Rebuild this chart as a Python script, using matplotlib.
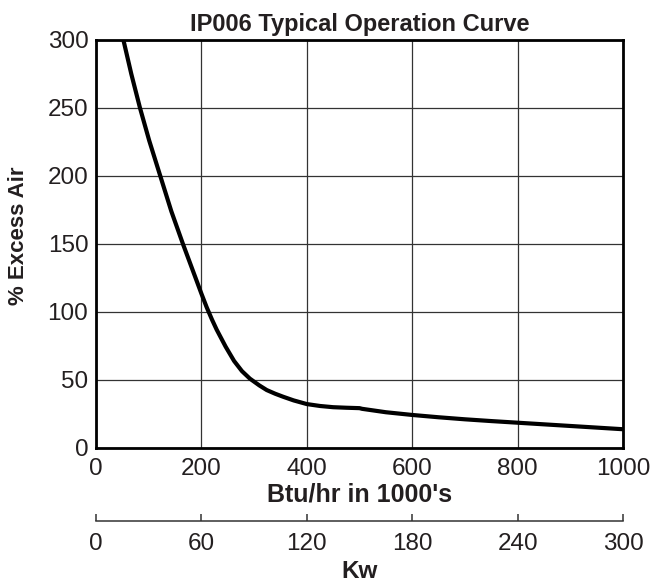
import matplotlib
matplotlib.use("Agg")
import matplotlib.pyplot as plt

plt.rcParams['font.family'] = ['Liberation Sans', 'DejaVu Sans']

# curve (Btu/hr in 1000's, % excess air)
btu = [52, 67, 83.5, 101, 122, 143, 165, 189, 200, 210, 220, 229, 246, 262,
       277, 292, 310, 324, 340, 355, 375, 400, 425, 450, 475, 500, 505, 550,
       600, 650, 700, 750, 800, 850, 900, 950, 1000]
excess_air = [300, 275, 250, 226, 200, 174, 150, 125, 113.5, 103.5, 94.5, 87,
              74.5, 64, 56.5, 51, 46, 42.6, 39.9, 37.7, 35, 32.3, 30.9, 30,
              29.6, 29.3, 28.8, 26.3, 24.3, 22.6, 21.1, 19.8, 18.6, 17.4, 16.2,
              15, 13.8]

x_ticks = [0, 200, 400, 600, 800, 1000]
y_ticks = [0, 50, 100, 150, 200, 250, 300]
kw_ticks = [0, 60, 120, 180, 240, 300]

ink = '#231f20'

fig = plt.figure(figsize=(6.55, 5.83), dpi=100)
ax = fig.add_axes([96 / 655, 1 - 448 / 583, 527 / 655, 408 / 583])

ax.plot(btu, excess_air, color='black', linewidth=3.0, solid_capstyle='butt',
        solid_joinstyle='round', zorder=3)

ax.set_xlim(0, 1000)
ax.set_ylim(0, 300)
ax.set_xticks(x_ticks)
ax.set_yticks(y_ticks)
ax.grid(True, color='#333333', linewidth=0.9)
ax.tick_params(axis='both', length=0, labelsize=17.5, labelcolor=ink)
ax.tick_params(axis='x', pad=7)
ax.tick_params(axis='y', pad=5.5)
for s in ax.spines.values():
    s.set_linewidth(2.0)
    s.set_color('black')
    s.set_zorder(4)

ax.set_title("IP006 Typical Operation Curve", fontsize=17, fontweight='bold',
             color=ink, pad=6.5)
ax.set_xlabel("Btu/hr in 1000's", fontsize=18, fontweight='bold', color=ink,
              labelpad=2)
ax.set_ylabel("% Excess Air", fontsize=16, fontweight='bold', color=ink)
ax.yaxis.set_label_coords(-0.127, 0.52)

# second scale in kW below the main axis
sec = ax.secondary_xaxis((448 - 520.7) / 408, functions=(lambda x: x * 0.3,
                                                       lambda x: x / 0.3))
sec.set_xticks(kw_ticks)
sec.spines['bottom'].set_color('#333333')
sec.spines['bottom'].set_linewidth(1.1)
sec.tick_params(direction='in', length=5, width=1.1, color='#333333',
                labelsize=17.5, labelcolor=ink, pad=8.5)
sec.set_xlabel("Kw", fontsize=17.5, fontweight='bold', color=ink, labelpad=4)

fig.savefig("out.png", dpi=100)
